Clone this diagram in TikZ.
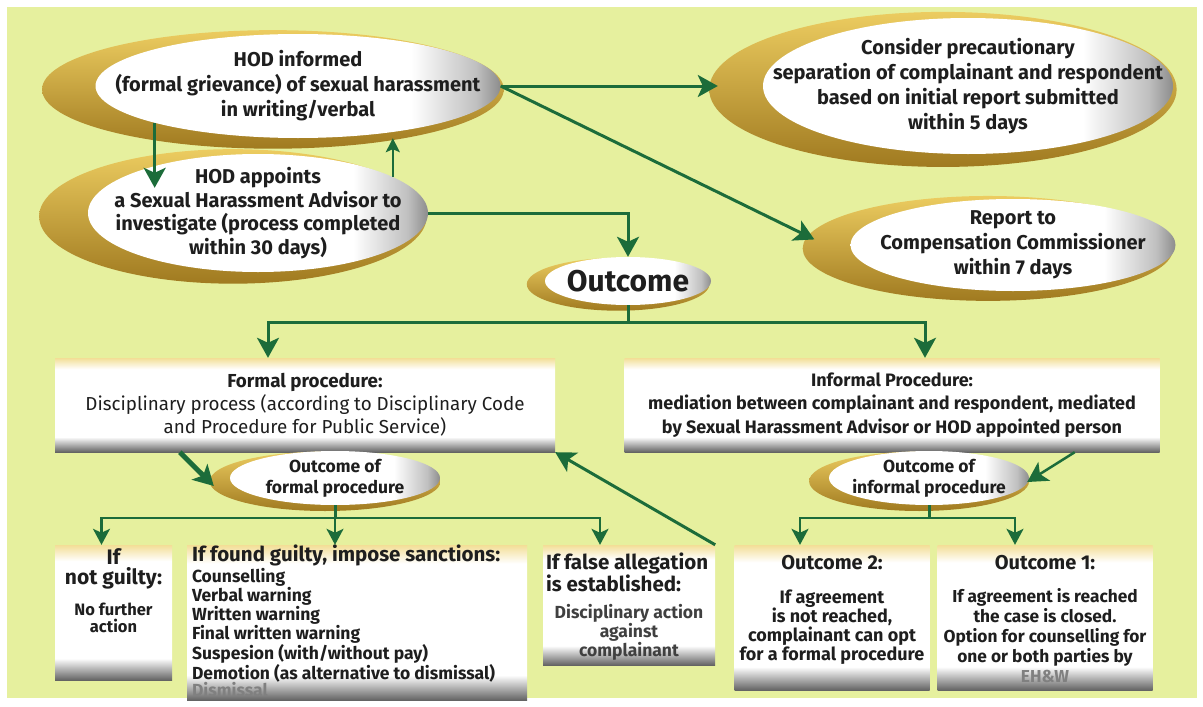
\documentclass[tikz,border=0pt]{standalone}
\usepackage{fontspec}
\setmainfont{Fira Sans}
\usepackage{tikz}
\usetikzlibrary{calc}
\usetikzlibrary{arrows.meta}
\usetikzlibrary{shapes.geometric}
\usetikzlibrary{shadows}

\setlength{\lineskiplimit}{-\maxdimen}

\definecolor{field}{RGB}{230,240,158}
\definecolor{leaf}{RGB}{28,108,58}
\definecolor{goldlight}{RGB}{236,204,96}
\definecolor{golddark}{RGB}{160,122,32}
\definecolor{ovalgray}{RGB}{140,140,140}
\definecolor{boxgray}{RGB}{100,100,100}
\definecolor{boxcream}{RGB}{243,222,150}
\definecolor{ink}{RGB}{30,30,30}

\pgfdeclarehorizontalshading{ovalshade}{100bp}{color(0bp)=(white); color(25bp)=(white); color(64bp)=(white); color(72bp)=(ovalgray!55); color(75bp)=(ovalgray); color(100bp)=(ovalgray)}
\pgfdeclareverticalshading{boxshade}{100bp}{color(0bp)=(boxgray); color(25bp)=(boxgray); color(33bp)=(white); color(69bp)=(white); color(75bp)=(boxcream); color(100bp)=(boxcream)}

\begin{document}
\begin{tikzpicture}[x=1pt, y=-1pt,
	arr/.style={draw=leaf, line width=3pt, -{Stealth[length=20pt, width=22pt, inset=5pt]}},
	thin arr/.style={draw=leaf, line width=2pt, -{Stealth[length=14pt, width=14pt, inset=3pt]}},
	small arr/.style={draw=leaf, line width=2.5pt, -{Stealth[length=16pt, width=17pt, inset=4pt]}},
	tie/.style={draw=leaf, line width=3pt},
	ovalbase/.style={ellipse, inner sep=0pt, shade, shading=ovalshade},
	oval/.style={ovalbase, general shadow={shadow scale=1.14, shadow xshift=-22pt, shadow yshift=-3pt, top color=goldlight, bottom color=golddark}},
	little oval/.style={ovalbase, general shadow={shadow scale=1.1, shadow xshift=-9pt, shadow yshift=-3pt, top color=goldlight, bottom color=golddark}},
	says/.style={align=center, inner sep=0pt, text=ink, font=\bfseries\fontsize{20}{25}\selectfont},
	box/.style={rectangle, inner sep=0pt, shade, shading=boxshade, text=ink}]

	\useasboundingbox (0,0) rectangle (1203,707);
	\fill[field] (7,7) rectangle (1197,698);

	\node[oval, minimum width=405pt, minimum height=104pt, label={[says]center:HOD informed\\(formal grievance) of sexual harassment\\in writing/verbal}] (A) at (298,86) {};
	\node[oval, minimum width=340pt, minimum height=118pt, label={[says, font=\bfseries\fontsize{20}{23.5}\selectfont]center:HOD appoints\\a Sexual Harassment Advisor to\\investigate (process completed\\within 30 days)}] (B) at (258,213) {};
	\node[oval, minimum width=410pt, minimum height=136pt, label={[says]center:Consider precautionary\\separation of complainant and respondent\\based on initial report submitted\\within 5 days}] (C) at (968,86) {};
	\node[oval, minimum width=325pt, minimum height=92pt, label={[says]center:Report to\\Compensation Commissioner\\within 7 days}] (D) at (1013,245) {};
	\node[little oval, minimum width=166pt, minimum height=48pt, label={[says, font=\bfseries\fontsize{30}{34}\selectfont]center:Outcome}] (O) at (628,281) {};

	\node[box] (FP) at (305,405) {\parbox[c][94pt][c]{500pt}{\centering\fontsize{18.8}{23}\selectfont\textbf{Formal procedure:}\\Disciplinary process (according to Disciplinary Code\\and Procedure for Public Service)}};
	\node[box] (IP) at (892,405) {\parbox[c][94pt][c]{535pt}{\centering\bfseries\fontsize{18}{23.5}\selectfont Informal Procedure:\\mediation between complainant and respondent, mediated\\by Sexual Harassment Advisor or HOD appointed person}};

	\node[little oval, minimum width=210pt, minimum height=54pt, label={[says, font=\bfseries\fontsize{17.5}{21}\selectfont]center:Outcome of\\formal procedure}] (E) at (335,478) {};
	\node[little oval, minimum width=200pt, minimum height=54pt, label={[says, font=\bfseries\fontsize{17.5}{21}\selectfont]center:Outcome of\\informal procedure}] (F) at (929,478) {};

	\node[box] (NG) at (113.5,612.5) {\parbox[c][135pt][t]{117pt}{\centering\bfseries\vspace*{4pt}\fontsize{21}{20}\selectfont If\\not guilty:\par\vspace{12pt}\fontsize{16.5}{17}\selectfont No further\\action}};
	\node[box, inner xsep=5pt] (SG) at (357,622.5) {\parbox[c][155pt][t]{330pt}{\raggedright\bfseries\vspace*{0pt}\fontsize{20.5}{22}\selectfont If found guilty, impose sanctions:\par\vspace{1pt}\fontsize{17.5}{17}\selectfont Counselling\\Verbal warning\\Written warning\\Final written warning\\Suspesion (with/without pay)\\Demotion (as alternative to dismissal)\\{\color{gray}Dismissal}}};
	\node[box, inner xsep=3pt] (FA) at (629,605) {\parbox[c][120pt][t]{166pt}{\bfseries\vspace*{8pt}\fontsize{20.5}{22}\selectfont\raggedright If false allegation\\is established:\par\vspace{10pt}\centering\color{ink!85}\fontsize{17.5}{16.5}\selectfont Disciplinary action\\against\\complainant}};
	\node[box] (O2) at (832,617.5) {\parbox[c][145pt][t]{195pt}{\centering\bfseries\vspace*{10pt}\fontsize{20}{21}\selectfont Outcome 2:\par\vspace{15pt}\fontsize{18}{19}\selectfont If agreement\\is not reached,\\complainant can opt\\for a formal procedure}};
	\node[box] (O1) at (1045,617.5) {\parbox[c][145pt][t]{215pt}{\centering\bfseries\vspace*{10pt}\fontsize{20}{21}\selectfont Outcome 1:\par\vspace{13pt}\fontsize{17.3}{20}\selectfont If agreement is reached\\the case is closed.\\Option for counselling for\\one or both parties by\\{\color{gray}EH\&W}}};

	\draw[arr, shorten >=45pt] (A.east) -- (C.west);
	\draw[arr, shorten >=40pt] (A.east) -- ($(D.west)+(0,12)$);
	\draw[arr] (A.south west) -- ($(A.south west |- B.north)+(0,34)$);
	\draw[thin arr] (B.15) -- (B.15 |- A.south);
	\draw[arr] (B.east) -| (O.north);

	\coordinate (split) at ($(O.south)+(0,17)$);
	\draw[tie] (O.south) -- (split);
	\draw[arr] (split) -| ($(FP.north)+(-37,0)$);
	\draw[arr] (split) -| ($(IP.north)+(33,0)$);

	\draw[arr, line width=5pt] ($(FP.south west)+(125,0)$) -- ($(E.west)+(-16,8)$);
	\draw[arr, line width=2.5pt] ($(IP.south east)+(-85,0)$) -- ($(F.east)+(-2,4)$);

	\coordinate (esplit) at ($(E.south)+(0,13)$);
	\draw[tie] (E.south) -- (esplit);
	\draw[small arr] (esplit) -| ($(NG.north)+(-12,0)$);
	\draw[small arr] (esplit) -- (esplit |- SG.north);
	\draw[small arr] (esplit) -| ($(FA.north)+(-29,0)$);

	\coordinate (fsplit) at ($(F.south)+(0,13)$);
	\draw[tie] (F.south) -- (fsplit);
	\draw[small arr] (fsplit) -| ($(O2.north)+(-32,0)$);
	\draw[small arr] (fsplit) -| ($(O1.north)+(-30,0)$);

	\draw[arr] (FA.north east) -- (FP.south east);
\end{tikzpicture}
\end{document}
